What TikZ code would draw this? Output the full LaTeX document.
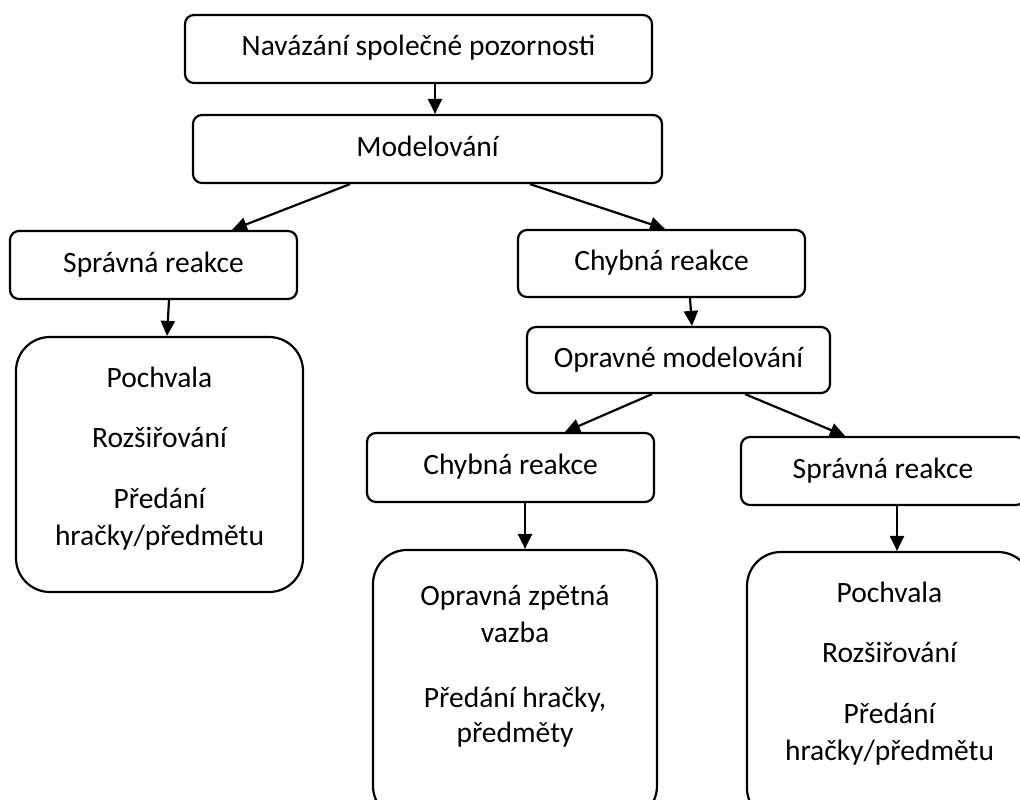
\documentclass[tikz,border=0pt]{standalone}
\usepackage{fontspec}
\setmainfont{Carlito}
\usetikzlibrary{arrows.meta}
\tikzset{
  box/.style={draw=black, line width=2.2pt, rounded corners=9pt, fill=white, inner sep=0pt,
    font=\fontsize{29.5}{37}\selectfont, text height=21pt, text depth=7pt},
  bigbox/.style={draw=black, line width=2.2pt, rounded corners=34pt, fill=white, inner sep=0pt},
  txt/.style={font=\fontsize{29.5}{37}\selectfont, inner sep=0pt, anchor=base},
  conn/.style={line width=2.2pt, -{Triangle[length=15pt,width=14pt]}}
}
\begin{document}
\begin{tikzpicture}[x=1pt,y=-1pt]
\clip (0,0) rectangle (1020,800);
\fill[white] (0,0) rectangle (1020,800);
% boxes
\node[box, minimum width=467pt, minimum height=68pt] (top) at (418.5,49) {Navázání společné pozornosti};
\node[box, minimum width=469pt, minimum height=68pt] (model) at (427.5,149) {Modelování};
\node[box, minimum width=287pt, minimum height=68pt] (sprL) at (153.5,265) {Správná reakce};
\node[bigbox, minimum width=287pt, minimum height=255pt] (bigL) at (159.5,464.5) {};
\node[box, minimum width=287pt, minimum height=67pt] (chybR) at (661.5,263.5) {Chybná reakce};
\node[box, minimum width=303pt, minimum height=66pt] (oprav) at (678.5,360) {Opravné modelování};
\node[box, minimum width=287pt, minimum height=69pt] (chybM) at (510.5,467.5) {Chybná reakce};
\node[box, minimum width=284pt, minimum height=68pt] (sprR) at (883,471) {Správná reakce};
\node[bigbox, minimum width=284pt, minimum height=270pt] (bigM) at (515,685) {};
\node[bigbox, minimum width=285pt, minimum height=270pt] (bigR) at (889.5,687) {};
% texts in big boxes
\node[txt] (l1) at (159.5,387) {Pochvala};
\node[txt] (l2) at (159.5,447) {Rozšiřování};
\node[txt] (l3) at (159.5,508) {Předání};
\node[txt] (l4) at (159.5,545) {hračky/předmětu};
\node[txt] (m1) at (515,605) {Opravná zpětná};
\node[txt] (m2) at (515,642) {vazba};
\node[txt] (m3) at (515,707) {Předání hračky,};
\node[txt] (m4) at (515,742) {předměty};
\node[txt] (r1) at (889.5,602) {Pochvala};
\node[txt] (r2) at (889.5,662) {Rozšiřování};
\node[txt] (r3) at (889.5,723) {Předání};
\node[txt] (r4) at (889.5,760) {hračky/předmětu};
% connectors
\draw[conn] ([xshift=16.5pt]top.south) -- ([xshift=7.5pt]model.north);
\draw[conn] ([xshift=-77.5pt]model.south) -- ([xshift=78.5pt]sprL.north);
\draw[conn] ([xshift=102.5pt]model.south) -- ([xshift=3.5pt]chybR.north);
\draw[conn] ([xshift=15.5pt]sprL.south) -- ([xshift=7.5pt]bigL.north);
\draw[conn] ([xshift=28.5pt]chybR.south) -- ([xshift=13.5pt]oprav.north);
\draw[conn] ([xshift=-26.5pt]oprav.south) -- ([xshift=54.5pt]chybM.north);
\draw[conn] ([xshift=66.5pt]oprav.south) -- ([xshift=-38pt]sprR.north);
\draw[conn] ([xshift=14.5pt]chybM.south) -- ([xshift=10pt]bigM.north);
\draw[conn] ([xshift=14pt]sprR.south) -- ([xshift=7.5pt]bigR.north);
\end{tikzpicture}
\end{document}
